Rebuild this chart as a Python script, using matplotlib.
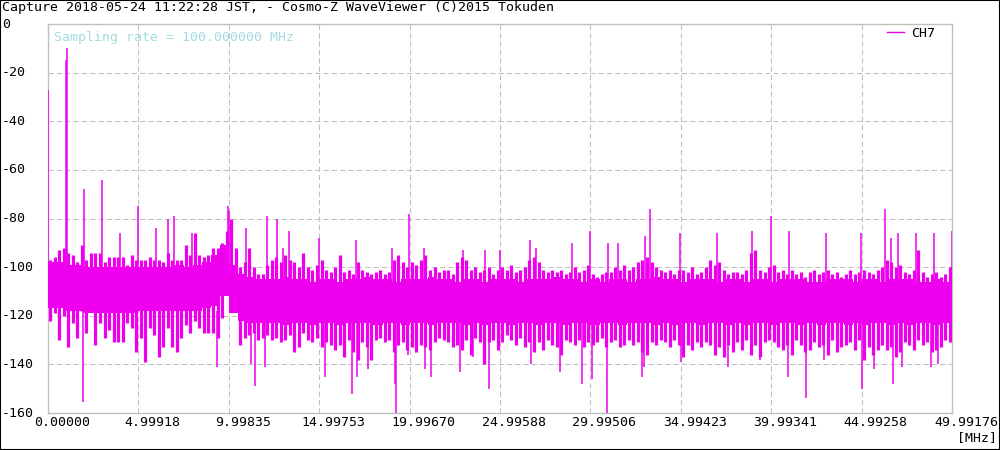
import numpy as np
import matplotlib
matplotlib.use("Agg")
import matplotlib.pyplot as plt
from matplotlib.transforms import blended_transform_factory, offset_copy
from matplotlib.patches import Rectangle

TITLE = "Capture 2018-05-24 11:22:28 JST, - Cosmo-Z WaveViewer (C)2015 Tokuden"
NOTE = "Sampling rate = 100.000000 MHz"
X_TICKS = ["0.00000", "4.99918", "9.99835", "14.99753", "19.99670", "24.99588",
           "29.99506", "34.99423", "39.99341", "44.99258", "49.99176"]
Y_TICKS = [0, -20, -40, -60, -80, -100, -120, -140, -160]

# spectrum, CH7 [dB]
# solid noise core, 0.5 MHz steps
CORE_MHZ = 0.5
core_hi = [-98, -98, -99, -99, -100, -100, -100, -100, -100, -100,
           -100, -100, -100, -100, -99, -100, -99, -98, -95, -91,
           -99, -103, -104, -105, -105, -105, -104, -105, -105, -106,
           -105, -105, -106, -105, -105, -104, -105, -105, -106, -105,
           -105, -105, -104, -105, -105, -106, -105, -105, -106, -105,
           -105, -105, -106, -105, -105, -105, -104, -105, -105, -106,
           -105, -106, -105, -105, -106, -105, -105, -104, -105, -105,
           -106, -105, -105, -105, -106, -105, -105, -106, -105, -105,
           -106, -105, -105, -105, -106, -106, -105, -105, -105, -106,
           -105, -105, -106, -105, -105, -105, -106, -106, -105, -106]
core_lo = [-117, -117, -118, -118, -119, -119, -119, -119, -119, -119,
           -118, -118, -118, -118, -118, -118, -118, -117, -116, -112,
           -119, -122, -123, -123, -123, -123, -124, -123, -123, -124,
           -123, -123, -124, -123, -123, -123, -124, -123, -123, -124,
           -123, -123, -124, -123, -123, -123, -124, -123, -124, -123,
           -123, -124, -123, -123, -124, -123, -123, -124, -123, -123,
           -124, -123, -123, -124, -123, -123, -123, -124, -123, -124,
           -123, -123, -124, -123, -123, -124, -123, -124, -123, -123,
           -124, -123, -123, -124, -123, -124, -123, -123, -124, -123,
           -124, -123, -123, -124, -123, -124, -123, -123, -124, -123]

# ragged fringe of the noise band, 0.25 MHz steps
BIN_MHZ = 0.25
fringe_hi = [-97, -96, -93, -92, -94, -95, -98, -91, -97, -94, -94, -94,
             -98, -96, -96, -96, -96, -99, -95, -97, -97, -97, -96, -97,
             -97, -98, -94, -97, -97, -97, -91, -95, -86, -95, -96, -95,
             -92, -92, -90, -85, -80, -92, -100, -98, -92, -100, -103, -103,
             -99, -97, -96, -98, -95, -97, -98, -100, -94, -100, -101, -99,
             -97, -101, -102, -100, -95, -102, -101, -103, -98, -101, -102, -103,
             -102, -101, -103, -102, -97, -95, -98, -100, -98, -99, -97, -95,
             -101, -100, -102, -101, -101, -103, -98, -96, -97, -101, -100, -102,
             -101, -100, -103, -101, -100, -101, -99, -102, -101, -100, -97, -96,
             -98, -101, -102, -101, -102, -101, -103, -102, -100, -102, -101, -99,
             -103, -104, -103, -102, -102, -100, -101, -99, -101, -100, -98, -97,
             -96, -98, -100, -101, -102, -101, -103, -101, -101, -102, -100, -103,
             -102, -100, -97, -99, -98, -101, -103, -102, -102, -103, -101, -94,
             -93, -101, -102, -100, -99, -102, -101, -103, -101, -103, -102, -104,
             -102, -101, -103, -102, -101, -103, -102, -104, -103, -101, -103, -102,
             -101, -102, -103, -101, -100, -97, -98, -100, -99, -102, -103, -101,
             -93, -102, -104, -103, -102, -104, -103, -100]
fringe_lo = [-122, -119, -130, -120, -133, -123, -129, -118, -127, -118, -132, -123,
             -129, -126, -131, -131, -131, -123, -125, -135, -129, -139, -125, -128,
             -137, -133, -125, -133, -135, -129, -124, -127, -122, -125, -127, -127,
             -127, -129, -121, -110, -106, -114, -132, -129, -128, -127, -130, -129,
             -128, -130, -129, -131, -130, -128, -135, -133, -127, -130, -131, -129,
             -133, -131, -132, -134, -132, -137, -130, -135, -138, -131, -133, -138,
             -130, -129, -131, -130, -135, -132, -131, -134, -133, -135, -132, -133,
             -134, -131, -129, -130, -131, -133, -132, -134, -130, -136, -129, -131,
             -140, -131, -130, -134, -131, -128, -130, -132, -129, -133, -131, -135,
             -131, -134, -130, -132, -133, -136, -130, -131, -132, -130, -133, -131,
             -132, -131, -129, -133, -131, -130, -133, -132, -130, -132, -131, -135,
             -136, -131, -132, -130, -131, -133, -130, -132, -137, -132, -134, -131,
             -133, -131, -132, -136, -133, -137, -132, -135, -131, -134, -130, -136,
             -132, -137, -131, -130, -131, -133, -134, -132, -136, -130, -132, -135,
             -134, -131, -133, -132, -136, -130, -135, -133, -132, -131, -134, -130,
             -138, -133, -136, -134, -132, -134, -133, -137, -135, -131, -132, -134,
             -130, -132, -131, -135, -134, -133, -130, -131]

# isolated lines sticking out of the band
spike_up_mhz = [0.0, 0.98, 1.03, 1.99, 3.0, 4.0, 5.0, 5.97, 6.65, 6.99, 7.94,
                9.93, 10.02, 10.96, 12.13, 12.68, 13.0, 13.35, 14.99, 17.01,
                19.0, 19.98, 20.8, 22.96, 24.17, 24.99, 26.65, 27.0, 29.0, 29.97,
                30.99, 31.5, 33.0, 33.31, 34.97, 36.98, 38.95, 39.98, 41.0, 43.0,
                44.98, 46.3, 46.64, 46.99, 48.0, 48.97, 49.98]
spike_up_db = [-27, -15, -10, -68, -64, -86, -75, -84, -80, -79, -86,
               -75, -77, -84, -79, -80, -92, -85, -88, -89,
               -92, -78, -92, -93, -93, -93, -89, -92, -90, -85,
               -90, -90, -87, -76, -86, -86, -85, -79, -85, -86,
               -86, -76, -88, -86, -86, -86, -85]
spike_dn_mhz = [1.94, 9.36, 11.2, 11.47, 12.02, 15.3, 16.8, 17.1, 17.7, 19.2,
                19.26, 19.9, 20.85, 21.2, 22.8, 23.5, 24.37, 26.7, 28.3, 29.55,
                30.1, 30.9, 32.86, 32.97, 35.0, 37.6, 39.4, 40.9, 41.94, 42.9,
                45.03, 45.7, 46.73, 47.24, 48.85, 49.2]
spike_dn_db = [-155.5, -141, -140, -149, -141, -145, -152, -145, -142, -148,
               -160, -136, -142, -145, -143, -137, -150, -140, -143, -148,
               -146, -160, -145, -141, -139, -141, -138, -145, -154, -138,
               -150, -142, -148, -141, -141, -140]

MAGENTA = "#ee00ee"
GRID = "#c0c0c0"
FONT = "DejaVu Sans Mono"
FS = 9.5

fig = plt.figure(figsize=(10, 4.5), dpi=100)
ax = fig.add_axes([48 / 1000, 37 / 450, 904 / 1000, 389 / 450])

x_max = float(X_TICKS[-1])
ax.set_xlim(0, x_max)
ax.set_ylim(-160, 0)

# noise band core
core_x = np.arange(len(core_hi) + 1) * CORE_MHZ
ax.fill_between(core_x, core_lo + core_lo[-1:], core_hi + core_hi[-1:],
                step="post", color=MAGENTA, lw=0, zorder=3)

# fringe
fr_x = np.arange(len(fringe_hi)) * BIN_MHZ + BIN_MHZ / 2
ax.vlines(fr_x, fringe_lo, fringe_hi, color=MAGENTA, lw=2.3, zorder=3)

# spikes
ax.vlines(spike_up_mhz, -110, spike_up_db, color=MAGENTA, lw=1.1, zorder=3)
ax.vlines(spike_dn_mhz, spike_dn_db, -118, color=MAGENTA, lw=1.1, zorder=3)

ax.plot([], [], color=MAGENTA, lw=1.0, label="CH7")

# grid and frame
ax.set_xticks([float(t) for t in X_TICKS])
ax.set_yticks(Y_TICKS)
ax.grid(True, color=GRID, lw=0.75, linestyle=(0, (5, 3)), zorder=1)
ax.tick_params(length=0, labelbottom=False, labelleft=False)
for sp in ax.spines.values():
    sp.set_color(GRID)
    sp.set_linewidth(1.0)

# tick labels placed like the viewer does
ytr = blended_transform_factory(fig.transFigure, ax.transData)
for v in Y_TICKS:
    ax.text(2 / 1000, v, str(v), transform=ytr, ha="left", va="center",
            family=FONT, fontsize=FS, clip_on=False)

xtr = offset_copy(blended_transform_factory(ax.transData, fig.transFigure),
                  fig=fig, x=14, y=0, units="dots")
for t in X_TICKS:
    ax.text(float(t), 1 - 423 / 450, t, transform=xtr, ha="center", va="center",
            family=FONT, fontsize=FS, clip_on=False)

fig.text(997 / 1000, 1 - 438 / 450, "[MHz]", ha="right", va="center",
         family=FONT, fontsize=FS)
fig.text(2 / 1000, 1 - 8 / 450, TITLE, ha="left", va="center",
         family=FONT, fontsize=FS)
fig.text(54 / 1000, 1 - 38 / 450, NOTE, ha="left", va="center",
         family=FONT, fontsize=FS, color="#a6dbe0")

leg = ax.legend(loc="upper right", bbox_to_anchor=(0.981, 0.992), frameon=False,
                handlelength=1.3, handletextpad=0.5, borderpad=0, borderaxespad=0,
                prop={"family": FONT, "size": FS})

fig.patches.append(Rectangle((0, 0), 1, 1, transform=fig.transFigure,
                             fill=False, ec="black", lw=1.5))

fig.savefig("out.png", dpi=100)
